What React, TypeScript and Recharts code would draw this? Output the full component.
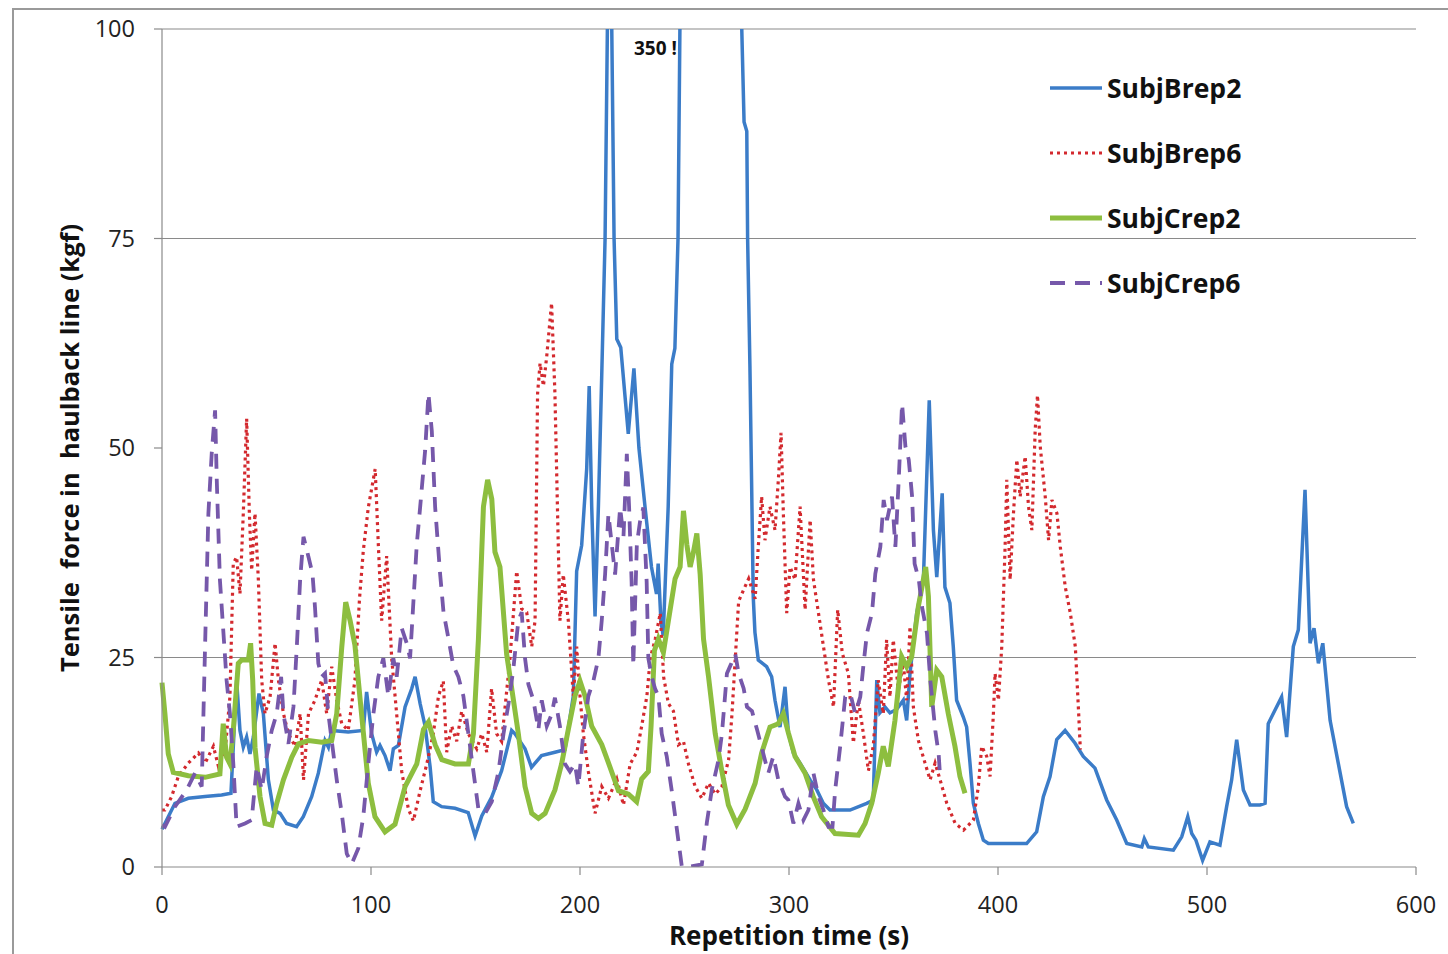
import React from "react";
import { LineChart, Line, XAxis, YAxis, ReferenceLine } from "recharts";

const xTicks = [0, 100, 200, 300, 400, 500, 600];
const yTicks = [0, 25, 50, 75, 100];
const gridValues = [25, 75, 100];

// [time (s), force (kgf)]
const subjBrep2: [number, number][] = [
  [0, 4.5], [1.4, 5.2], [6.2, 7.6], [12.6, 8.2], [20.6, 8.4], [28.5, 8.6], [33, 8.8], [34.1, 14.3], [35.7, 22.3],
  [37.3, 16.3], [38.9, 14.3], [40.5, 15.5], [42.1, 13.5], [43.7, 15.5], [46.4, 20.7], [48.5, 18.3], [50.9, 10.4],
  [53.3, 6.8], [56.5, 6.4], [59.6, 5.2], [64.4, 4.8], [67.6, 6], [71.6, 8.4], [74.8, 11.2], [78, 15.1], [79.6, 14.3],
  [81.2, 16.3], [89.1, 16.1], [96.3, 16.3], [97.9, 20.9], [100.3, 15.9], [102.7, 13.7], [104.3, 14.5], [106.7, 13.3],
  [109.1, 11.5], [110.7, 14.1], [113.1, 14.5], [116.3, 19.1], [119.5, 21.3], [121.1, 22.7], [123.5, 19.5],
  [125.9, 16.8], [128.3, 11.9], [129.8, 7.8], [133.8, 7.2], [140.2, 7], [146.5, 6.5], [149.8, 3.7], [153, 6.1],
  [157.7, 8.3], [162.5, 11.5], [167.3, 16.3], [168.9, 15.9], [173.7, 14.1], [176.8, 11.9], [181.6, 13.3], [188, 13.7],
  [192.8, 14], [196.8, 20.4], [198.4, 35.3], [200.8, 38.4], [203.2, 47.5], [204.4, 57.4], [205.6, 43], [207.2, 29.9],
  [208.8, 43], [210.4, 58.7], [212, 75], [213.1, 100], [214, 350], [215.2, 100], [216.3, 75], [217.6, 63],
  [219.5, 62], [223.1, 51.7], [225.8, 59.5], [228.2, 50], [231.1, 43], [234.2, 35.8], [236.6, 32.6], [237.4, 36.2],
  [238.7, 29.4], [239.8, 27.6], [242.2, 43], [243.9, 60], [245.4, 61.9], [246.9, 75], [247.8, 100], [250, 350],
  [275, 350], [277.4, 100], [278.5, 88.9], [279.8, 87.8], [280.2, 75], [281.3, 59.8], [282.1, 46], [282.9, 32.2],
  [283.7, 28], [285.3, 24.7], [289.3, 23.9], [291.7, 22.7], [293.3, 19.9], [295.7, 16.7], [298.1, 21.5], [299.7, 16],
  [302.1, 13.6], [305.3, 12.4], [310.1, 10.4], [313.3, 9.2], [316.4, 7.6], [319.6, 6.8], [329.2, 6.8], [337.2, 7.6],
  [340.3, 8], [342, 22.3], [343.5, 18.4], [345.9, 19.1], [348.3, 18.4], [351.5, 18.8], [354.7, 19.9], [356.3, 17.5],
  [357.9, 23.1], [361.1, 30.3], [364.3, 34.2], [367.1, 55.7], [369.1, 40.2], [370.7, 34.6], [373.3, 44.6],
  [374.6, 33.4], [377, 31.5], [378.6, 26.3], [380.2, 19.9], [383.4, 17.9], [385, 16.7], [386.6, 12.4], [388.2, 7.6],
  [390.6, 5.2], [393, 3.2], [395.4, 2.8], [413.7, 2.8], [418.5, 4.2], [421.7, 8.4], [424.9, 10.8], [428.1, 15.2],
  [432.1, 16.3], [436.8, 14.8], [440.8, 13.2], [446.4, 11.8], [452, 8], [456.8, 5.6], [461.6, 2.8], [468.8, 2.4],
  [470, 3.4], [471.9, 2.4], [483.9, 2], [487.9, 3.6], [490.8, 6], [492.7, 4], [494.7, 3.2], [497.9, 0.8], [501.4, 3],
  [506.2, 2.6], [509.4, 7.2], [511.8, 10.4], [514.2, 15.2], [517.4, 9.2], [520.6, 7.4], [525.4, 7.4], [527.8, 7.6],
  [529.3, 17.1], [532.5, 18.7], [535.7, 20.3], [538.1, 15.5], [541.3, 26.3], [543.7, 28.3], [546.9, 45],
  [549.3, 26.7], [551.2, 28.5], [553.3, 24.3], [555.4, 26.7], [558.9, 17.5], [562.8, 12.4], [566.8, 7.2], [570, 5.2],
];

const subjBrep6: [number, number][] = [
  [0, 6.8], [1.4, 6.8], [4.6, 8.4], [7.8, 10.8], [12.6, 12.4], [17.4, 13.6], [20.6, 12.4], [24.6, 14.4], [27, 12],
  [30.1, 13.6], [32.5, 20.3], [34.1, 36.2], [35.7, 37], [37.3, 32.6], [38.9, 42.2], [40.5, 53.5], [41.8, 42.2],
  [42.9, 35.4], [44.5, 42.2], [46.1, 34.3], [47.7, 22.3], [49.3, 18.3], [51.7, 20.3], [54.1, 26.7], [55.7, 22.3],
  [58.1, 18.3], [60.5, 15.9], [63.7, 14.4], [66.1, 18.3], [67.7, 10.4], [70.1, 18.3], [73.2, 19.9], [76.4, 22.3],
  [78.8, 18.3], [81.2, 23.9], [83.6, 19.9], [86, 17.1], [89.1, 16.3], [92.3, 22.3], [94.5, 32], [96.3, 37.7],
  [98.7, 42.9], [102, 47.5], [103.5, 38.5], [105.1, 29.4], [107.5, 37.1], [109.9, 24.9], [112.3, 18.2], [114.7, 11.4],
  [117.9, 6.9], [120.3, 5.5], [123.5, 9.1], [126.7, 12.3], [129.8, 15.9], [132.3, 20.4], [134.6, 22.2], [136.2, 13.7],
  [138.6, 16.8], [141, 15], [143.4, 18.6], [146.6, 15.9], [150.6, 14.1], [153, 15.9], [155.4, 13.7], [157.7, 21.3],
  [160.1, 15.9], [162.5, 15], [166.5, 24.9], [169.7, 35.3], [172.1, 30.8], [174.5, 30.4], [176.9, 26.3],
  [178.5, 29.4], [179.7, 56.5], [180.9, 60.1], [182.5, 57.4], [184.1, 61], [186.4, 67.3], [188, 56.5], [189.6, 38.5],
  [190.4, 29.4], [192, 34.9], [194.4, 29.4], [196.8, 20.4], [198.4, 26.3], [200, 20.4], [201.6, 15.9], [204, 11.4],
  [207.2, 6.4], [210.4, 9.6], [213.6, 8.2], [217.6, 10.5], [220.8, 7.4], [224, 12.3], [227.2, 13.7], [229.5, 16.8],
  [232, 20.4], [233.6, 24.9], [236, 27.2], [238.4, 30.3], [240, 22.7], [242.3, 19.5], [244.7, 18.6], [247.1, 14.6],
  [249.5, 15], [251.9, 12.3], [255.1, 9.6], [258.3, 8.2], [261.5, 10], [264.7, 8.7], [267.9, 9.6], [271.1, 12.8],
  [272.7, 18.2], [274.3, 24.9], [275.9, 31.7], [278.3, 33.1], [280.7, 34.4], [283.8, 32], [285.3, 38.2],
  [286.9, 44.2], [288.5, 39], [290.9, 43], [293.3, 40.2], [294.9, 46.2], [296.2, 51.8], [297.3, 42.2], [298.9, 30.3],
  [300.5, 35.8], [302.9, 34.3], [305.3, 43], [307.7, 30.7], [310.1, 41.4], [311.7, 34.3], [314.1, 30.3],
  [316.5, 26.3], [318.9, 22.3], [321.3, 19.1], [323.3, 30.7], [325.5, 25.5], [328.4, 23.1], [330.8, 14.8],
  [333.2, 19.9], [335.6, 15.9], [338, 11.5], [340.3, 14.4], [342.7, 22.3], [345.1, 18.3], [346.7, 27.1],
  [348.3, 20.3], [349.9, 27.1], [352.3, 21.1], [354.7, 24.3], [356.3, 19.9], [357.9, 28.7], [359.5, 19.1],
  [361.9, 15.1], [365.1, 12.4], [367.5, 10.4], [369.9, 12.4], [372.3, 10.4], [375.5, 7.6], [379.5, 5.2],
  [383.5, 4.4], [388.2, 5.6], [390.6, 9.6], [392.2, 14.4], [394.6, 13.2], [396.2, 10.8], [397.8, 18.3],
  [398.6, 23.1], [400.2, 19.9], [401.8, 26.3], [403.4, 38.2], [404.2, 46.2], [405.8, 34.3], [407.4, 42.2],
  [409, 48.6], [410.6, 44.2], [413, 49], [414.6, 43], [416.2, 40.2], [417.8, 52.2], [418.9, 56.3], [420.2, 50.2],
  [422.6, 44.2], [424.2, 39], [425.8, 43.8], [428.2, 42.2], [429.8, 38.2], [432.2, 33.4], [434.6, 30.3], [437, 26.3],
  [438.6, 18.3], [439.4, 14],
];

const subjCrep2: [number, number][] = [
  [0, 22], [1.4, 18.3], [3, 13.5], [5.4, 11.3], [12.6, 10.9], [20.6, 10.7], [27.7, 11.1], [29.3, 17.1], [30.9, 13.1],
  [32.5, 12.3], [34.1, 16.3], [36.5, 24.3], [38.1, 24.7], [41.3, 24.7], [42.4, 26.7], [43.4, 22.3], [44.5, 14.3],
  [46.9, 8.4], [49.3, 5.2], [52.5, 5], [54.9, 7.6], [58.1, 10.4], [62.1, 13.1], [65.3, 14.7], [70.1, 15.1],
  [76.4, 14.9], [81.2, 15.1], [83.6, 18.3], [86, 26.2], [87.9, 31.6], [90, 29.4], [92.3, 26.5], [95.5, 18.2],
  [98.7, 10], [101.9, 6], [106.7, 4.2], [111.5, 5.1], [116.3, 9.6], [121.9, 12.3], [125.1, 16.4], [127.5, 17.3],
  [130.7, 14.6], [133.9, 12.8], [140.2, 12.3], [146.6, 12.3], [149, 15.9], [151.4, 27.2], [153.8, 43], [155.8, 46.2],
  [157.8, 43.9], [159.3, 37.6], [161.7, 35.8], [164.9, 25.4], [168.1, 20], [170.5, 15.9], [173.7, 9.6], [176.9, 6.4],
  [180.1, 5.8], [183.3, 6.4], [188, 9.2], [191.2, 12.3], [194.4, 16.4], [197.6, 20.4], [200, 22.2], [202.4, 20.4],
  [205.6, 16.8], [210.4, 14.6], [214.4, 11.9], [218.4, 9.1], [223.2, 8.7], [227.1, 7.8], [229.5, 10.5],
  [232.7, 11.4], [234, 16.8], [235.6, 25.8], [237.5, 27.2], [239.9, 25.6], [242.3, 29.4], [245.5, 34.4],
  [247.9, 35.8], [249.5, 42.5], [251.1, 38.5], [252.7, 35.8], [254.3, 37.6], [255.9, 39.8], [257.5, 34.9],
  [259.1, 27.2], [261.5, 22.7], [264.7, 15.9], [267.9, 11.4], [271, 7.4], [275, 5.1], [279, 6.9], [283.8, 10],
  [286.9, 13.6], [290.9, 16.7], [294.9, 17.1], [297.3, 18.3], [299.7, 16], [302.9, 13.2], [307.7, 11.2],
  [311.6, 8.4], [315.6, 6], [322, 4], [333.2, 3.8], [336.4, 5.2], [339.6, 7.6], [342.7, 11.2], [345.1, 14.4],
  [347.5, 12], [350.7, 17.5], [353.9, 25.1], [356.3, 23.9], [358.7, 25.1], [361.9, 31.1], [365.4, 35.8],
  [366.7, 32.3], [368.3, 19.1], [370.7, 23.5], [373.1, 22.7], [376.2, 18.3], [379.4, 14.4], [381.8, 10.8],
  [384.2, 8.8],
];

const subjCrep6: [number, number][] = [
  [0, 5], [1.4, 4.8], [6.2, 7.2], [11.8, 9.2], [15.8, 11.2], [19, 9.6], [20.6, 26.3], [22.2, 42.2], [23.8, 49.4],
  [25.4, 54.5], [26.2, 46.2], [27.7, 34.3], [29.3, 28.3], [30.9, 22.3], [32.5, 18.3], [34.1, 12.4], [35.7, 4.8],
  [39.7, 5.2], [42.9, 5.6], [45.3, 12], [47.7, 9.2], [50.1, 13.2], [52.5, 16.3], [54.9, 18.3], [57, 22.7],
  [58.1, 18.3], [60.5, 14.7], [62.9, 19.1], [64.5, 26.3], [66.1, 34.3], [67.7, 39.4], [70.1, 37], [72, 35],
  [73.2, 31], [74.8, 24.3], [76.4, 22.7], [78, 23.1], [79.6, 18.3], [81.2, 15.1], [83.6, 10.4], [86, 6.4],
  [88.4, 1.6], [90.8, 0.4], [93.9, 2.2], [96.3, 6], [98.7, 12.3], [101.1, 18.2], [103.5, 22.7], [105.9, 24.9],
  [108.3, 20.4], [110.7, 24.9], [112.3, 22.7], [114.7, 28.5], [117.1, 26.7], [118.7, 24.9], [120.3, 31.7],
  [121.9, 38.5], [123.5, 42.9], [125.9, 49.7], [127.5, 56.5], [129.1, 52], [130.7, 42.9], [133.1, 34.9],
  [134.7, 30.4], [137.1, 27.2], [139.4, 24], [141.8, 22.7], [144.2, 20.4], [146.6, 15.9], [149, 11.4], [151.4, 6.9],
  [154.6, 6.4], [157.8, 7.8], [161, 11.4], [163.4, 15.9], [165.8, 19.5], [168.1, 23.6], [170.5, 29.4],
  [172.1, 30.4], [173.7, 24.9], [175.3, 21.8], [177.7, 19.9], [180.1, 16.4], [181.7, 19.9], [184.1, 16.8],
  [186.4, 18.2], [188, 20.2], [190.4, 16.8], [192.8, 12.3], [195.2, 11.4], [197.6, 12.3], [199.2, 9.6],
  [201.6, 15.9], [204, 20.4], [206.4, 22.2], [208.8, 24.9], [210.4, 29.4], [212, 34.9], [213.6, 42.1],
  [215.2, 38.5], [216.8, 34.9], [219.2, 42.9], [220.8, 39.4], [222.4, 49.3], [223.5, 42.9], [224.7, 34],
  [225.5, 24], [227.2, 38.5], [228.7, 41.2], [230.3, 42.9], [231.9, 34], [232.7, 24.9], [234.3, 22.7],
  [235.9, 21.3], [237.5, 20.4], [239.1, 15.9], [241.5, 13.2], [243.9, 9.1], [246.3, 4.6], [248.7, 0.1], [251.9, 0],
  [258.3, 0.3], [260.7, 5.3], [263.1, 9.3], [266.3, 12.8], [267.9, 15.9], [270.3, 23.1], [271.9, 24], [274.3, 25.4],
  [275.9, 23.1], [278.3, 21.3], [279.9, 19.1], [282.3, 18.6], [284.7, 16.4], [287.1, 14.1], [290.1, 11.2],
  [292.5, 13.2], [294.9, 10.4], [298.1, 8.4], [299.7, 8], [302.1, 5.2], [304.5, 7.6], [306.9, 5.6], [309.3, 6.8],
  [311.7, 11.2], [314.1, 8.4], [316.5, 6.8], [318.9, 4.8], [320.8, 4.8], [322.1, 9.2], [324.5, 14.4],
  [326.9, 20.3], [329.3, 20.7], [331.7, 18.3], [334.1, 20.3], [335.7, 24.3], [337.3, 27.9], [339.7, 30.3],
  [341.3, 35], [343.7, 38.2], [345.3, 43.8], [346.9, 41.4], [349.3, 44.2], [350.9, 38.2], [352.5, 46.2],
  [354.1, 55.3], [355.7, 50.2], [357.3, 48.6], [358.9, 44.2], [360.1, 36.2], [362.1, 34.3], [363.6, 31.1],
  [366, 27.9], [367.6, 22.3], [370, 16.3], [371.6, 13.5], [372.4, 10.4],
];

const FONT = "'Open Sans', 'Liberation Sans', sans-serif";

const series = [
  { name: "SubjBrep2", pts: subjBrep2, color: "#3B7CC8", width: 3.5, dash: undefined as string | undefined },
  { name: "SubjBrep6", pts: subjBrep6, color: "#D3292E", width: 3.2, dash: "3 4" },
  { name: "SubjCrep2", pts: subjCrep2, color: "#8DBE3F", width: 5, dash: undefined },
  { name: "SubjCrep6", pts: subjCrep6, color: "#7658AA", width: 3.8, dash: "15 10" },
];

const toRows = (pts: [number, number][]) => pts.map(([t, v]) => ({ t, v }));

function LegendBox() {
  return (
    <div style={{ position: "absolute", left: 1046, top: 68 }}>
      {series.map((s) => (
        <div key={s.name} style={{ display: "flex", alignItems: "center", height: 40, marginBottom: 25 }}>
          <svg width={58} height={40}>
            <line x1={4} y1={20} x2={56} y2={20} stroke={s.color} strokeWidth={s.width} strokeDasharray={s.dash} />
          </svg>
          <span style={{ fontFamily: FONT, fontWeight: 700, fontSize: 26.5, color: "#111", marginLeft: 3 }}>{s.name}</span>
        </div>
      ))}
    </div>
  );
}

export default function App() {
  const axisColor = "#8a8a8a";
  return (
    <div style={{ position: "absolute", left: 0, top: 0, width: 1448, height: 954, background: "#fff", overflow: "hidden" }}>
      <div style={{ position: "absolute", left: 12, top: 8, width: 1440, height: 950, borderLeft: "2px solid #9a9a9a", borderTop: "2px solid #9a9a9a" }} />
      <LineChart width={1448} height={954} margin={{ top: 29, right: 32, bottom: 47, left: 102 }}>
        {gridValues.map((g) => (
          <ReferenceLine key={g} y={g} stroke={axisColor} strokeWidth={1.2} />
        ))}
        <XAxis
          type="number"
          dataKey="t"
          domain={[0, 600]}
          ticks={xTicks}
          height={40}
          stroke={axisColor}
          strokeWidth={1.2}
          tickSize={8}
          tickMargin={21}
          tick={{ fill: "#222", fontSize: 23.5, fontFamily: FONT }}
          label={{
            value: "Repetition time (s)",
            position: "bottom",
            offset: 20,
            style: { fill: "#111", fontSize: 26, fontWeight: 700, fontFamily: FONT },
          }}
        />
        <YAxis
          type="number"
          domain={[0, 100]}
          ticks={yTicks}
          allowDataOverflow
          width={60}
          stroke={axisColor}
          strokeWidth={1.2}
          tickSize={8}
          tickMargin={19}
          tick={{ fill: "#222", fontSize: 23.5, fontFamily: FONT }}
          label={{
            value: "Tensile\u00A0 force in\u00A0 haulback line (kgf)",
            angle: -90,
            position: "left",
            offset: 32,
            style: { fill: "#111", fontSize: 25.5, fontWeight: 700, fontFamily: FONT, textAnchor: "middle" },
          }}
        />
        {series.map((s) => (
          <Line
            key={s.name}
            data={toRows(s.pts)}
            dataKey="v"
            name={s.name}
            type="linear"
            stroke={s.color}
            strokeWidth={s.width}
            strokeDasharray={s.dash}
            dot={false}
            activeDot={false}
            isAnimationActive={false}
          />
        ))}
      </LineChart>
      <div style={{ position: "absolute", left: 634, top: 35, fontFamily: FONT, fontWeight: 700, fontSize: 19, color: "#111", whiteSpace: "pre" }}>
        350 !
      </div>
      <LegendBox />
    </div>
  );
}
